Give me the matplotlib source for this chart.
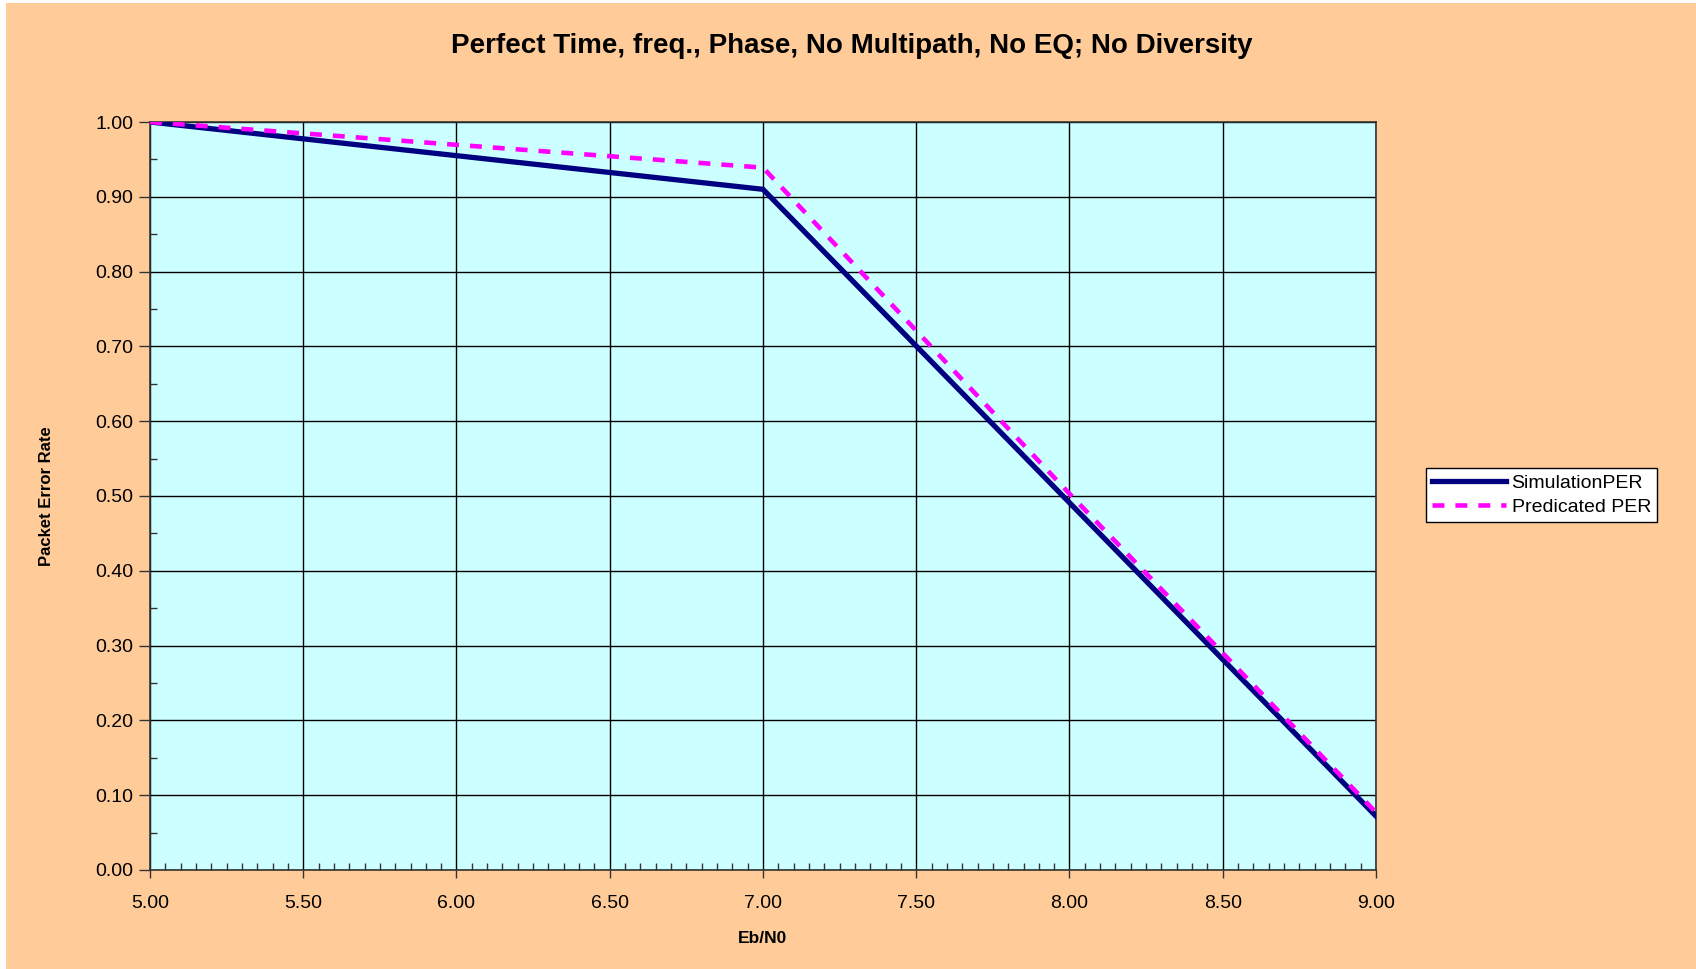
import numpy as np
import matplotlib
matplotlib.use("Agg")
import matplotlib.pyplot as plt
from matplotlib.patches import Rectangle
from matplotlib.ticker import MultipleLocator, FormatStrFormatter

# data
ebn0 = [5.0, 7.0, 8.0, 9.0]
sim_per = [1.0, 0.910, 0.491, 0.072]
pred_per = [1.0, 0.939, 0.503, 0.077]

title = "Perfect Time, freq., Phase, No Multipath, No EQ; No Diversity"

plt.rcParams["font.family"] = ["Liberation Sans", "DejaVu Sans"]

fig = plt.figure(figsize=(16.96, 9.69), dpi=100)
fig.patch.set_facecolor("white")
fig.patches.append(Rectangle((6 / 1696, 0), 1, 966 / 969, transform=fig.transFigure,
                             facecolor="#FFCC99", edgecolor="none", zorder=-10))

ax = fig.add_axes([150 / 1696, 99 / 969, 1226 / 1696, 748 / 969])
ax.set_facecolor("#CCFFFF")

ax.plot(ebn0, sim_per, color="#000080", lw=3.8, solid_joinstyle="miter",
        label="SimulationPER", zorder=3)
ax.plot(ebn0, pred_per, color="#FF00FF", lw=3.3, dashes=(2.6, 2.4),
        dash_capstyle="butt", label="Predicated PER", zorder=4)

ax.set_xlim(5, 9)
ax.set_ylim(0, 1)
ax.xaxis.set_major_locator(MultipleLocator(0.5))
ax.xaxis.set_minor_locator(MultipleLocator(0.05))
ax.yaxis.set_major_locator(MultipleLocator(0.1))
ax.yaxis.set_minor_locator(MultipleLocator(0.05))
ax.xaxis.set_major_formatter(FormatStrFormatter("%.2f"))
ax.yaxis.set_major_formatter(FormatStrFormatter("%.2f"))

ax.tick_params(axis="both", which="major", direction="out", length=6, width=1,
               labelsize=14, color="#333333")
ax.tick_params(axis="y", which="major", length=8, pad=4)
ax.tick_params(axis="x", which="major", pad=12)
ax.tick_params(axis="both", which="minor", direction="in", length=5, width=1,
               color="#333333")

ax.grid(True, which="major", color="black", lw=1)
ax.set_axisbelow(True)
for s in ax.spines.values():
    s.set_color("#333333")
    s.set_linewidth(1.2)

ax.set_xlabel("Eb/N0", fontsize=12.5, fontweight="bold", labelpad=14)
ax.set_ylabel("Packet Error Rate", fontsize=12, fontweight="bold", labelpad=30)

fig.text(852 / 1696, 1 - 46 / 969, title, ha="center", va="center",
         fontsize=20, fontweight="bold")

leg = ax.legend(loc="center left", bbox_to_anchor=(1426 / 1696, 1 - 495 / 969),
                bbox_transform=fig.transFigure, fontsize=14, frameon=True,
                fancybox=False, framealpha=1, handlelength=3.8, handletextpad=0.3,
                borderpad=0.3, labelspacing=0.35, borderaxespad=0)
leg.get_frame().set_edgecolor("black")
leg.get_frame().set_linewidth(1)
leg.get_frame().set_facecolor("white")

fig.savefig("out.png", dpi=100, facecolor=fig.get_facecolor())
